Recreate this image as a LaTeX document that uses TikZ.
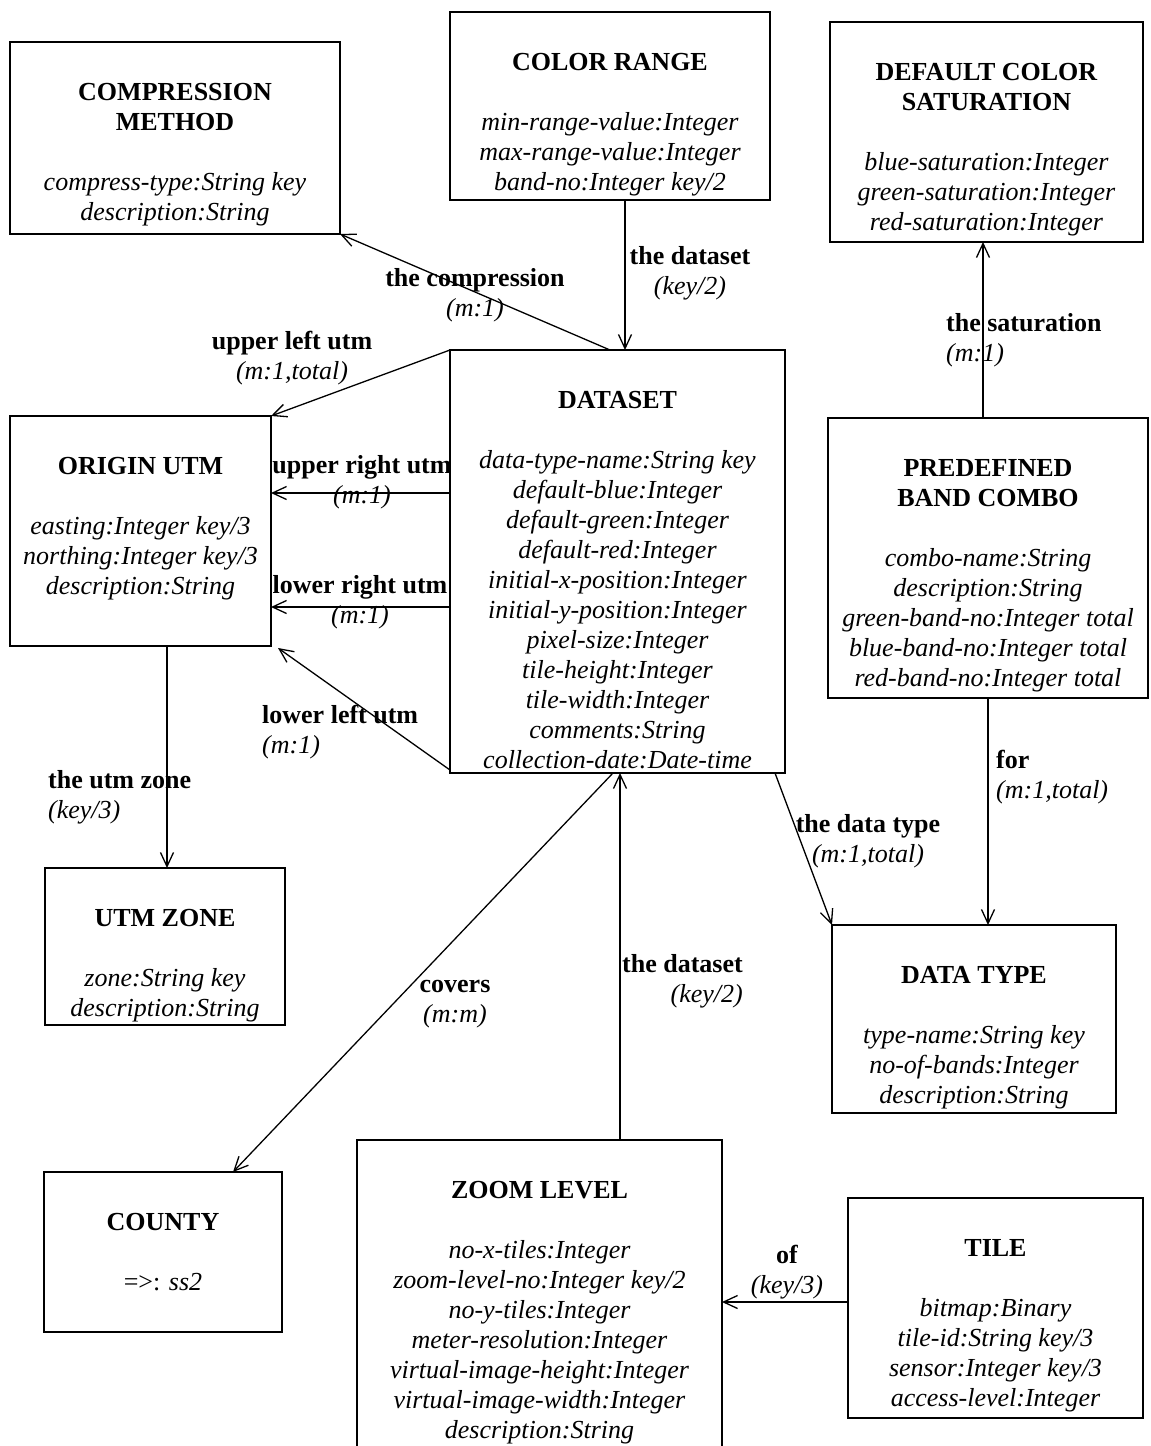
\documentclass[tikz,border=0pt]{standalone}
\usepackage{fontspec}
\setmainfont{Liberation Serif}
\usetikzlibrary{arrows.meta}

% an entity box: name, left, top, right, bottom, text
\newcommand\entity[6]{%
  \node[entitybox, anchor=north west, minimum width={#4-#2}, minimum height={#5-#3}] (#1) at (#2,#3) {};
  \node[entitytext, anchor=north] (#1-text) at ({(#2+#4)/2},{#3+41}) {#6};
}
\newcommand\attr[1]{\textit{#1}}
\newcommand\ttl[1]{\textbf{#1}}

\begin{document}
\begin{tikzpicture}[x=1pt, y=-1pt,
  entitybox/.style={draw, line width=2.6pt, fill=white, inner sep=0pt, outer sep=0pt},
  entitytext/.style={align=center, inner sep=0pt, font=\fontsize{26}{30}\selectfont},
  rellabel/.style={inner sep=0pt, font=\fontsize{26}{30}\selectfont},
  conn/.style={line width=1.3pt, -{Straight Barb[length=14pt, width=13pt, line width=1.3pt]}},
  plain/.style={line width=1.3pt}
]
\clip (0,0) rectangle (1151,1446);
\fill[white] (0,0) rectangle (1151,1446);

% relationship labels
\node[rellabel, align=center, anchor=north] (l-compr) at (475,268) {\ttl{the compression}\\\attr{(m:1)}};
\node[rellabel, align=center, anchor=north] (l-ds1) at (690,246) {\ttl{the dataset}\\\attr{(key/2)}};
\node[rellabel, align=center, anchor=north] (l-ul) at (292,331) {\ttl{upper left utm}\\\attr{(m:1,total)}};
\node[rellabel, align=center, anchor=north] (l-ur) at (362,455) {\ttl{upper right utm}\\\attr{(m:1)}};
\node[rellabel, align=center, anchor=north] (l-lr) at (360,575) {\ttl{lower right utm}\\\attr{(m:1)}};
\node[rellabel, align=left, anchor=north west] (l-ll) at (262,705) {\ttl{lower left utm}\\\attr{(m:1)}};
\node[rellabel, align=left, anchor=north west] (l-zone) at (48,770) {\ttl{the utm zone}\\\attr{(key/3)}};
\node[rellabel, align=left, anchor=north west] (l-sat) at (946,313) {\ttl{the saturation}\\\attr{(m:1)}};
\node[rellabel, align=left, anchor=north west] (l-for) at (996,750) {\ttl{for}\\\attr{(m:1,total)}};
\node[rellabel, align=center, anchor=north] (l-dt) at (868,814) {\ttl{the data type}\\\attr{(m:1,total)}};
\node[rellabel, align=center, anchor=north] (l-cov) at (455,980) {\ttl{covers}\\\attr{(m:m)}};
\node[rellabel, align=right, anchor=north east] (l-ds2) at (743,954) {\ttl{the dataset}\\\attr{(key/2)}};
\node[rellabel, align=center, anchor=north] (l-of) at (787,1245) {\ttl{of}\\\attr{(key/3)}};

% entities
\entity{compression}{10}{42}{340}{234}{\ttl{COMPRESSION}\\\ttl{METHOD}\\[30pt]\attr{compress-type:String key}\\\attr{description:String}}
\entity{colorrange}{450}{12}{770}{200}{\ttl{COLOR RANGE}\\[30pt]\attr{min-range-value:Integer}\\\attr{max-range-value:Integer}\\\attr{band-no:Integer key/2}}
\entity{saturation}{830}{22}{1143}{242}{\ttl{DEFAULT COLOR}\\\ttl{SATURATION}\\[30pt]\attr{blue-saturation:Integer}\\\attr{green-saturation:Integer}\\\attr{red-saturation:Integer}}
\entity{dataset}{450}{350}{785}{773}{\ttl{DATASET}\\[30pt]\attr{data-type-name:String key}\\\attr{default-blue:Integer}\\\attr{default-green:Integer}\\\attr{default-red:Integer}\\\attr{initial-x-position:Integer}\\\attr{initial-y-position:Integer}\\\attr{pixel-size:Integer}\\\attr{tile-height:Integer}\\\attr{tile-width:Integer}\\\attr{comments:String}\\\attr{collection-date:Date-time}}
\entity{origin}{10}{416}{271}{646}{\ttl{ORIGIN UTM}\\[30pt]\attr{easting:Integer key/3}\\\attr{northing:Integer key/3}\\\attr{description:String}}
\entity{combo}{828}{418}{1148}{698}{\ttl{PREDEFINED}\\\ttl{BAND COMBO}\\[30pt]\attr{combo-name:String}\\\attr{description:String}\\\attr{green-band-no:Integer total}\\\attr{blue-band-no:Integer total}\\\attr{red-band-no:Integer total}}
\entity{utmzone}{45}{868}{285}{1025}{\ttl{UTM ZONE}\\[30pt]\attr{zone:String key}\\\attr{description:String}}
\entity{datatype}{832}{925}{1116}{1113}{\ttl{DATA TYPE}\\[30pt]\attr{type-name:String key}\\\attr{no-of-bands:Integer}\\\attr{description:String}}
\entity{county}{44}{1172}{282}{1332}{\ttl{COUNTY}\\[30pt]=>: \attr{ss2}}
\entity{zoomlevel}{357}{1140}{722}{1470}{\ttl{ZOOM LEVEL}\\[30pt]\attr{no-x-tiles:Integer}\\\attr{zoom-level-no:Integer key/2}\\\attr{no-y-tiles:Integer}\\\attr{meter-resolution:Integer}\\\attr{virtual-image-height:Integer}\\\attr{virtual-image-width:Integer}\\\attr{description:String}}
\entity{tile}{848}{1198}{1143}{1418}{\ttl{TILE}\\[30pt]\attr{bitmap:Binary}\\\attr{tile-id:String key/3}\\\attr{sensor:Integer key/3}\\\attr{access-level:Integer}}

% relationships
\draw[conn] ([xshift=160pt]dataset.north west) -- (compression.south east);
\draw[conn] ([xshift=175pt]colorrange.south west) -- ([xshift=175pt]dataset.north west);
\draw[conn] (dataset.north west) -- (origin.north east);
\draw[conn] ([yshift=-143pt]dataset.north west) -- ([yshift=-77pt]origin.north east);
\draw[conn] ([yshift=-257pt]dataset.north west) -- ([yshift=-191pt]origin.north east);
\draw[conn] ([yshift=3pt]dataset.south west) -- ([xshift=7pt,yshift=-2pt]origin.south east);
\draw[conn] ([xshift=157pt]origin.south west) -- ([xshift=122pt]utmzone.north west);
\draw[conn] ([xshift=155pt]combo.north west) -- ([xshift=153pt]saturation.south west);
\draw[conn] ([xshift=160pt]combo.south west) -- ([xshift=156pt]datatype.north west);
\draw[conn] ([xshift=-10pt]dataset.south east) -- (datatype.north west);
\draw[conn] ([xshift=163pt]dataset.south west) -- ([xshift=189pt]county.north west);
\draw[conn] ([xshift=263pt]zoomlevel.north west) -- ([xshift=170pt]dataset.south west);
\draw[conn] ([yshift=-104pt]tile.north west) -- ([yshift=-162pt]zoomlevel.north east);
\end{tikzpicture}
\end{document}
